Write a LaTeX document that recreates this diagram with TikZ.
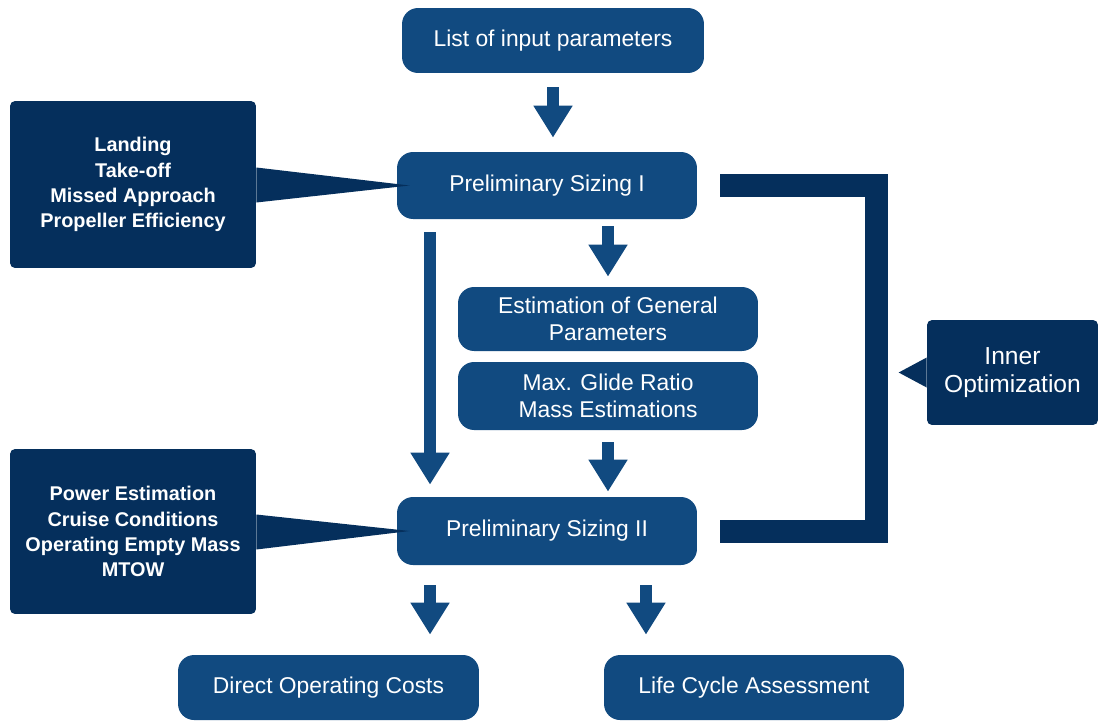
\documentclass[tikz,border=0pt]{standalone}
\usepackage{fontspec}
\setmainfont{Liberation Sans}
\usepackage{tikz}
\usetikzlibrary{arrows.meta, calc}
\definecolor{boxblue}{RGB}{17,74,128}
\definecolor{navy}{RGB}{5,47,92}
\tikzset{
  box/.style={fill=boxblue, text=white, rounded corners=0.32cm, minimum width=6cm,
    minimum height=1.32cm, inner sep=0pt, align=center, font=\fontsize{13}{15}\selectfont},
  note/.style={fill=navy, text=white, rounded corners=0.1cm, inner sep=0pt, align=center},
  bigarrow/.style={draw=boxblue, line width=0.23cm, -{Triangle[length=0.64cm, width=0.74cm]}},
  bracket/.style={draw=navy, line width=0.46cm, line join=miter},
}

\begin{document}
\begin{tikzpicture}[x=0.02cm, y=-0.02cm]
            \useasboundingbox (0,0) rectangle (1098,724);

            \node[box, minimum width=6.04cm, minimum height=1.3cm] (list) at (553,40.5) {List of input parameters};
            \node[box, minimum height=1.34cm] (p1) at (547,185.5) {Preliminary Sizing I};
            \node[box, minimum height=1.28cm] (est) at (608,319) {Estimation of General\\Parameters};
            \node[box, minimum height=1.36cm] (glide) at (608,396) {Max. Glide Ratio\\Mass Estimations};
            \node[box, minimum height=1.36cm] (p2) at (547,531) {Preliminary Sizing II};
            \node[box, minimum width=6.02cm, minimum height=1.3cm] (doc) at (328.5,687.5) {Direct Operating Costs};
            \node[box, minimum height=1.3cm] (lca) at (754,687.5) {Life Cycle Assessment};

            \node[note, minimum width=4.92cm, minimum height=3.34cm, font=\bfseries\fontsize{11.3}{14.3}\selectfont]
                (c1) at (133,184.5) {Landing\\Take-off\\Missed Approach\\Propeller Efficiency};
            \node[note, minimum width=4.92cm, minimum height=3.3cm, font=\bfseries\fontsize{11.3}{14.3}\selectfont]
                (c2) at (133,531.5) {Power Estimation\\Cruise Conditions\\Operating Empty Mass\\MTOW};
            \node[note, minimum width=3.42cm, minimum height=2.1cm, font=\fontsize{14}{16.4}\selectfont]
                (c3) at (1012.5,372.5) {Inner\\Optimization};

            \fill[navy] ([yshift=0.34cm]c1.east) -- ([xshift=0.26cm]p1.west) -- ([yshift=-0.36cm]c1.east) -- cycle;
            \fill[navy] ([yshift=0.34cm]c2.east) -- ([xshift=0.26cm]p2.west) -- ([yshift=-0.36cm]c2.east) -- cycle;
            \fill[navy] ([yshift=0.3cm]c3.west) -- ([xshift=-0.56cm]c3.west) -- ([yshift=-0.3cm]c3.west) -- cycle;

            \draw[bracket] ([xshift=0.46cm]p1.east) -- ++(156.5,0) |- ([xshift=0.46cm]p2.east);

            \draw[bigarrow, shorten <=0.28cm, shorten >=0.28cm] (list.south) -- (list.south |- p1.north);
            \draw[bigarrow, shorten <=0.26cm, shorten >=0.24cm] ([xshift=-2.34cm]p1.south) -- ([xshift=-2.34cm]p1.south |- p2.north);
            \draw[bigarrow, shorten <=0.14cm, shorten >=0.2cm] (est.north |- p1.south) -- (est.north);
            \draw[bigarrow, shorten <=0.24cm, shorten >=0.1cm] (glide.south) -- (glide.south |- p2.north);
            \draw[bigarrow, shorten <=0.4cm, shorten >=0.4cm] ([xshift=-2.34cm]p2.south) -- ([xshift=-2.34cm]p2.south |- doc.north);
            \draw[bigarrow, shorten <=0.4cm, shorten >=0.4cm] ([xshift=1.98cm]p2.south) -- ([xshift=1.98cm]p2.south |- lca.north);

        \end{tikzpicture}
\end{document}
